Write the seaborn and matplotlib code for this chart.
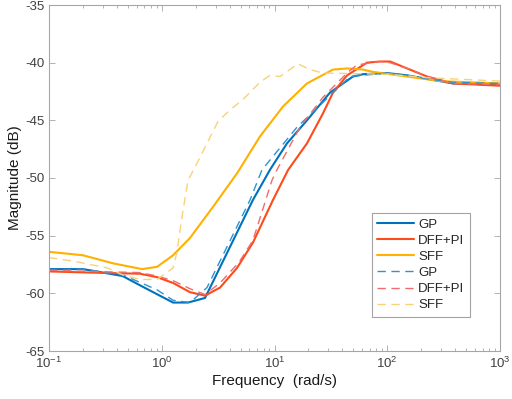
import matplotlib
matplotlib.use('Agg')
import matplotlib.pyplot as plt
import seaborn as sns
import numpy as np

sns.set_style('ticks')
plt.rcParams['font.family'] = ['Liberation Sans', 'DejaVu Sans']
plt.rcParams['axes.unicode_minus'] = False

# measured response (solid)
f_gp = [0.1, 0.2, 0.45, 0.64, 1.26, 1.71, 2.42, 6.44, 9.1, 12.9, 19.4, 31, 49.7, 61, 99.5, 150, 225, 383, 1000]
m_gp = [-57.9, -57.9, -58.5, -59.3, -60.8, -60.8, -60.4, -51.9, -49.3, -47.0, -45.0, -42.6, -41.2, -41.0, -40.9, -41.1, -41.4, -41.8, -41.9]

f_dff = [0.1, 0.23, 0.64, 0.91, 1.26, 1.78, 2.42, 3.29, 4.65, 6.44, 9.7, 13.2, 19.4, 26.9, 33, 44, 66, 86, 106, 150, 225, 383, 1000]
m_dff = [-58.1, -58.2, -58.3, -58.6, -59.1, -59.9, -60.2, -59.5, -57.8, -55.6, -51.9, -49.3, -47.0, -44.4, -42.6, -41.1, -40.0, -39.9, -39.9, -40.5, -41.2, -41.8, -42.0]

f_sff = [0.1, 0.2, 0.37, 0.67, 0.91, 1.26, 1.78, 2.85, 4.65, 7.43, 11.9, 19.4, 33, 44, 61, 75, 150, 294, 1000]
m_sff = [-56.4, -56.7, -57.4, -57.9, -57.7, -56.7, -55.2, -52.5, -49.6, -46.4, -43.8, -41.8, -40.6, -40.5, -40.6, -40.8, -41.2, -41.6, -41.8]

# simulated response (dashed)
f_gp2 = [0.1, 0.2, 0.45, 0.91, 1.26, 1.78, 2.52, 6.07, 7.74, 15.8, 46.8, 100, 150, 225, 383, 1000]
m_gp2 = [-58.0, -57.9, -58.4, -59.7, -60.6, -60.8, -59.5, -51.9, -49.3, -45.6, -41.2, -40.9, -41.1, -41.4, -41.7, -41.8]

f_dff2 = [0.1, 0.23, 0.64, 0.91, 1.26, 1.78, 2.42, 3.29, 4.85, 6.44, 9.5, 10.5, 16.8, 26.9, 44, 53.7, 86, 106, 150, 225, 383, 1000]
m_dff2 = [-58.0, -58.1, -58.2, -58.5, -58.9, -59.6, -60.1, -59.1, -57.3, -55.4, -50.2, -49.3, -45.6, -43.0, -40.9, -40.2, -39.9, -40.0, -40.5, -41.2, -41.8, -41.9]

f_sff2 = [0.1, 0.163, 0.33, 0.45, 0.64, 0.91, 1.26, 1.36, 1.51, 1.71, 2.06, 2.52, 3.15, 4.03, 5.25, 7.43, 9.12, 11.2, 16.1, 20.6, 26.9, 100, 225, 1000]
m_sff2 = [-56.9, -57.2, -57.8, -58.4, -58.8, -58.8, -57.8, -56.5, -53.4, -50.2, -48.7, -47.0, -45.1, -44.1, -43.2, -41.7, -41.1, -41.2, -40.1, -40.6, -40.9, -41.0, -41.3, -41.6]

labels = ['GP', 'DFF+PI', 'SFF']
solid_colors = ['#0072BD', '#FF4A1A', '#FFB000']
dash_colors = ['#2E93D0', '#F26B6B', '#F7D27A']

fig = plt.figure(figsize=(5.12, 3.99), dpi=100)
ax = fig.add_axes([49/512, 1-351/399, 451/512, 346/399])

solid = [(f_gp, m_gp), (f_dff, m_dff), (f_sff, m_sff)]
dashed = [(f_gp2, m_gp2), (f_dff2, m_dff2), (f_sff2, m_sff2)]
for (x, y), c, lab in zip(solid, solid_colors, labels):
    sns.lineplot(x=x, y=y, ax=ax, color=c, lw=1.5, label=lab, sort=False, estimator=None)
for (x, y), c, lab in zip(dashed, dash_colors, labels):
    sns.lineplot(x=x, y=y, ax=ax, color=c, lw=1.0, label=lab, sort=False, estimator=None,
                 linestyle=(0, (6, 4)))

ax.set_xscale('log')
ax.set_xlim(0.1, 1000)
ax.set_ylim(-65, -35)
ax.set_yticks(np.arange(-65, -34, 5))
ax.set_xlabel('Frequency  (rad/s)', fontsize=11, labelpad=2, color='#1a1a1a')
ax.set_ylabel('Magnitude (dB)', fontsize=11, labelpad=2, color='#1a1a1a')

for s in ax.spines.values():
    s.set_visible(True)
    s.set_color('#a6a6a6')
    s.set_linewidth(0.8)
ax.tick_params(which='both', direction='in', top=True, right=True, color='#a6a6a6',
               labelcolor='#404040', labelsize=9.5, width=0.6)
ax.tick_params(which='major', length=4)
ax.tick_params(which='minor', length=2)
ax.tick_params(axis='y', which='minor', left=False, right=False)

leg = ax.legend(loc='upper left', bbox_to_anchor=((372-49)/451, (351-213)/346),
                fontsize=9.5, frameon=True, fancybox=False, handlelength=2.8,
                borderaxespad=0, labelspacing=0.3, handletextpad=0.3, borderpad=0.4)
leg.get_frame().set_edgecolor('#8c8c8c')
leg.get_frame().set_linewidth(0.8)

fig.savefig('out.png', dpi=100)
